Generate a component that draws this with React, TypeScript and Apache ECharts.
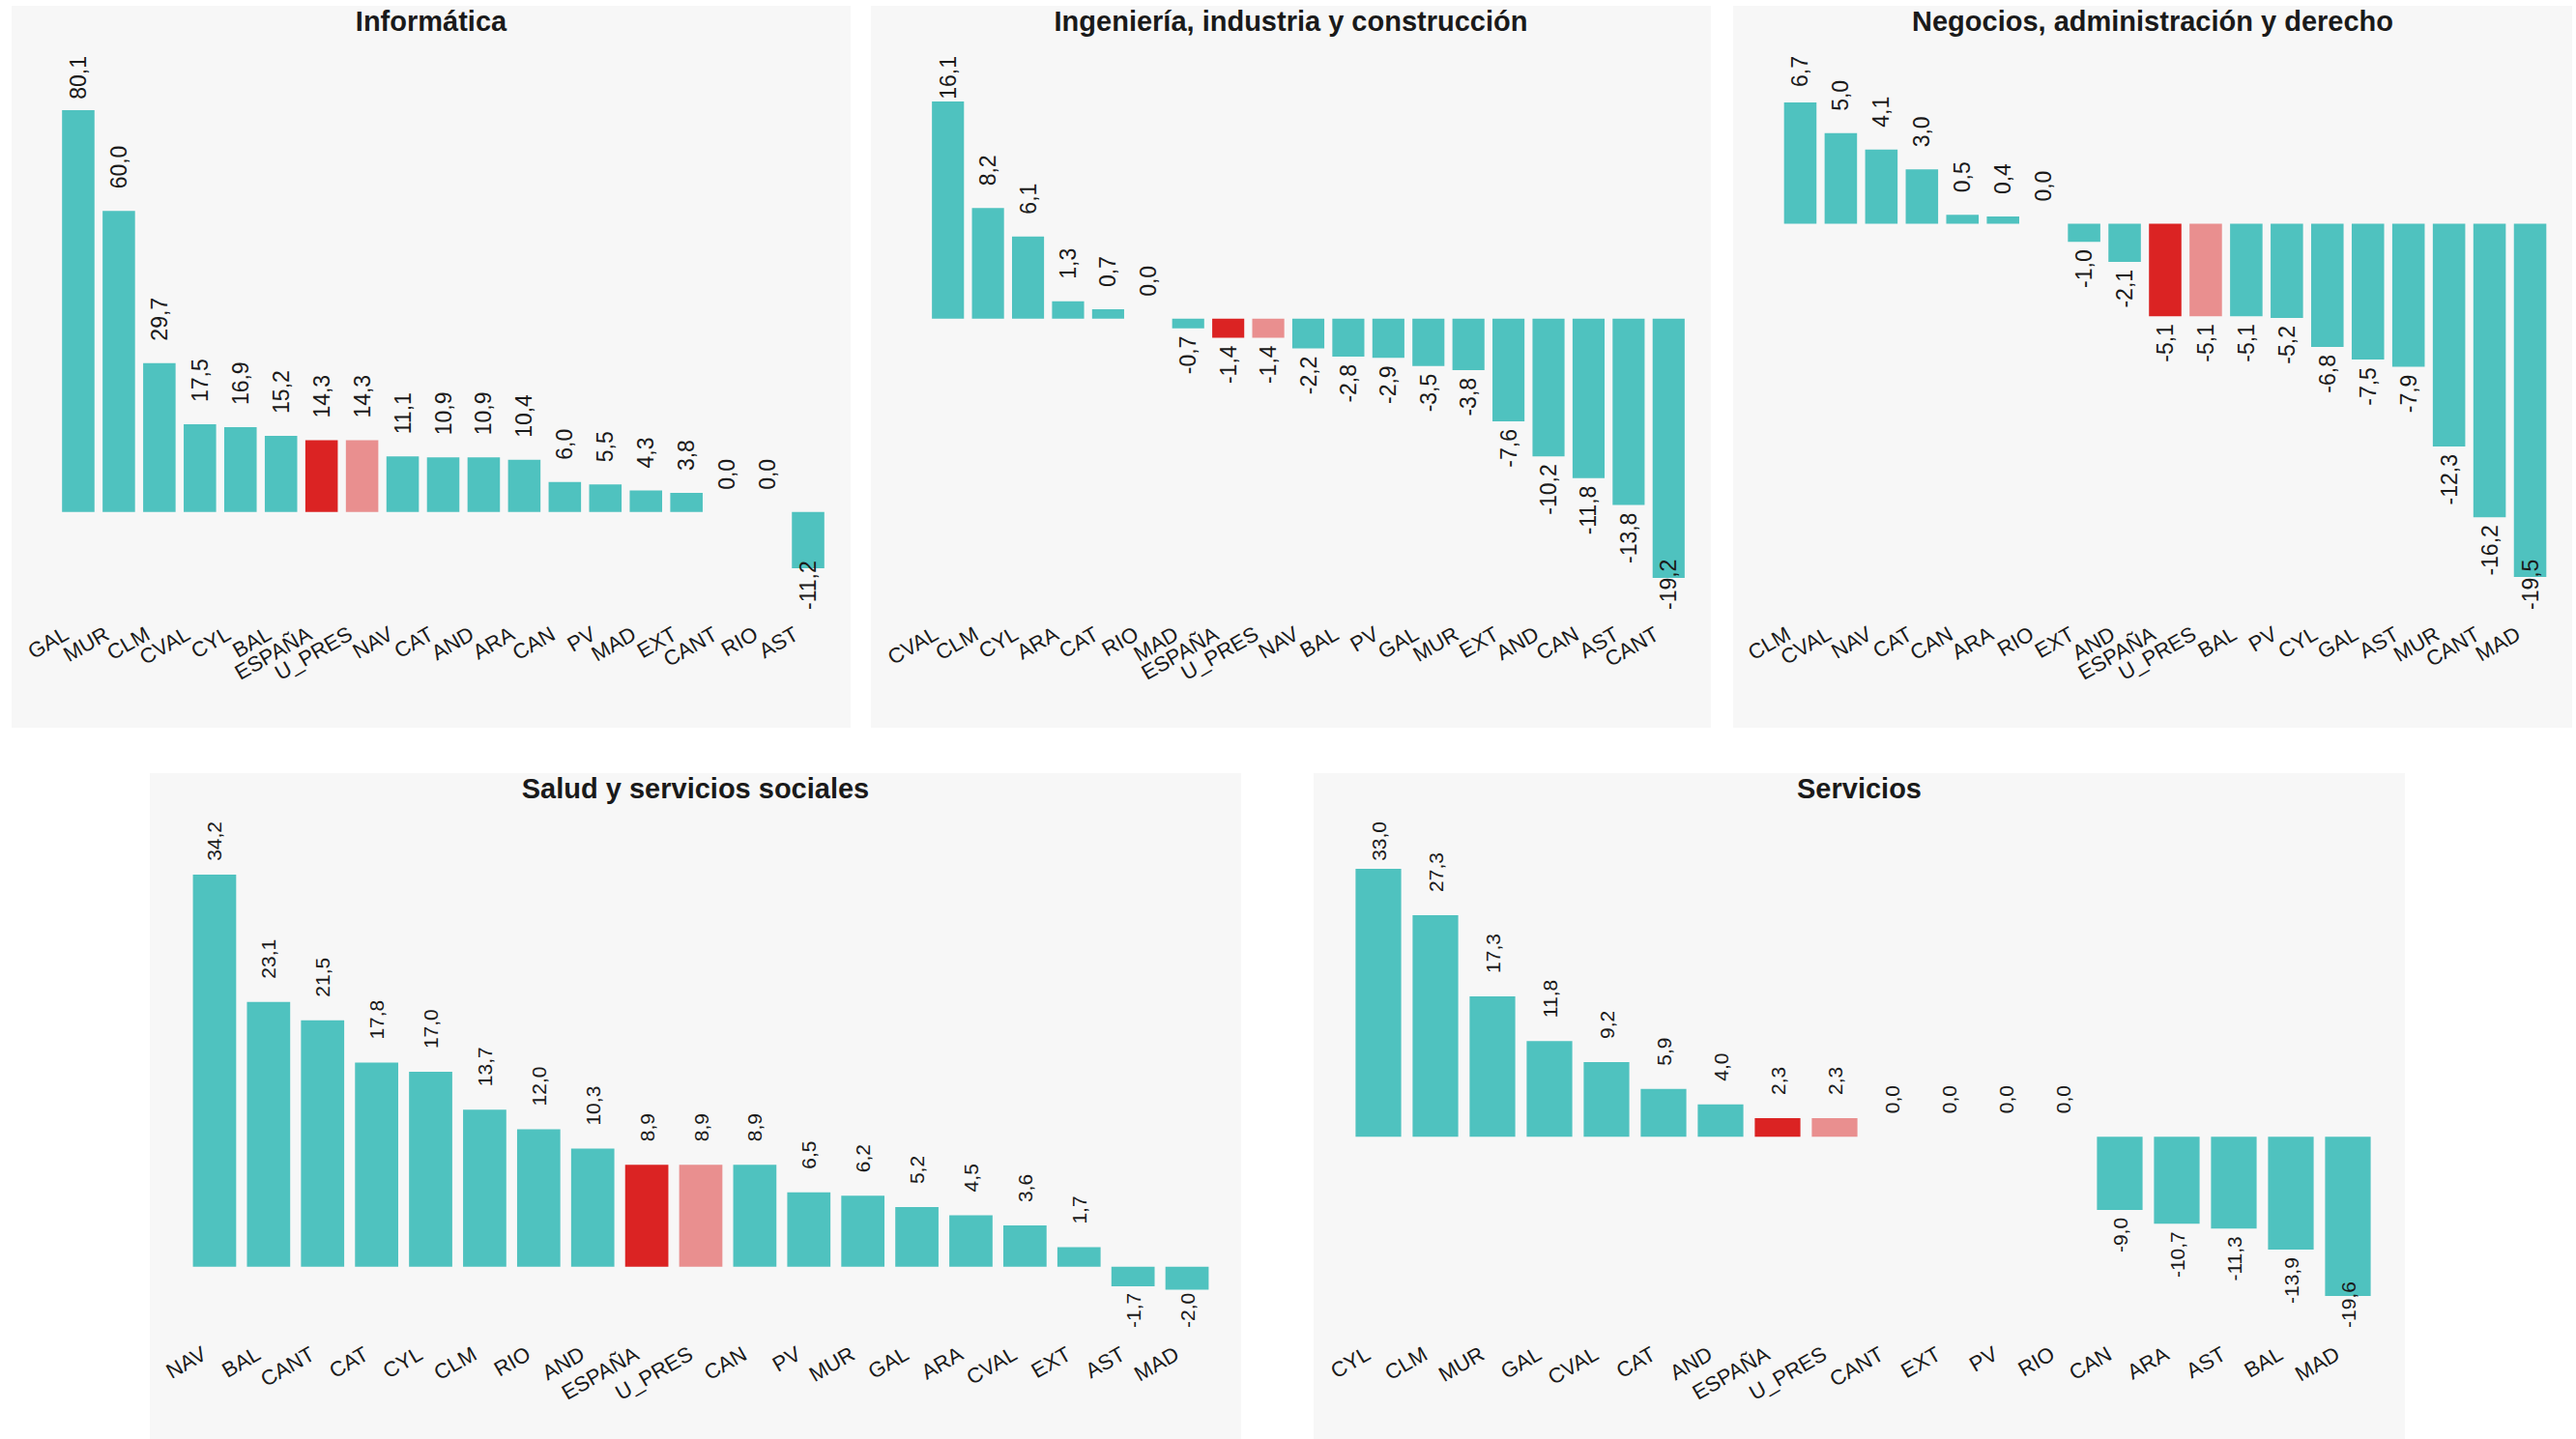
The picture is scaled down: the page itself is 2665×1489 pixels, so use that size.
import React, { useEffect, useRef } from "react";
import * as echarts from "echarts";

// ---------- DATA ----------
const TITLE_INFORMATICA = "Informática";
const CATS_INFORMATICA = ["GAL", "MUR", "CLM", "CVAL", "CYL", "BAL", "ESPAÑA", "U_PRES", "NAV", "CAT", "AND", "ARA", "CAN", "PV", "MAD", "EXT", "CANT", "RIO", "AST"];
const VALS_INFORMATICA = [80.1, 60.0, 29.7, 17.5, 16.9, 15.2, 14.3, 14.3, 11.1, 10.9, 10.9, 10.4, 6.0, 5.5, 4.3, 3.8, 0.0, 0.0, -11.2];

const TITLE_INGENIERIA = "Ingeniería, industria y construcción";
const CATS_INGENIERIA = ["CVAL", "CLM", "CYL", "ARA", "CAT", "RIO", "MAD", "ESPAÑA", "U_PRES", "NAV", "BAL", "PV", "GAL", "MUR", "EXT", "AND", "CAN", "AST", "CANT"];
const VALS_INGENIERIA = [16.1, 8.2, 6.1, 1.3, 0.7, 0.0, -0.7, -1.4, -1.4, -2.2, -2.8, -2.9, -3.5, -3.8, -7.6, -10.2, -11.8, -13.8, -19.2];

const TITLE_NEGOCIOS = "Negocios, administración y derecho";
const CATS_NEGOCIOS = ["CLM", "CVAL", "NAV", "CAT", "CAN", "ARA", "RIO", "EXT", "AND", "ESPAÑA", "U_PRES", "BAL", "PV", "CYL", "GAL", "AST", "MUR", "CANT", "MAD"];
const VALS_NEGOCIOS = [6.7, 5.0, 4.1, 3.0, 0.5, 0.4, 0.0, -1.0, -2.1, -5.1, -5.1, -5.1, -5.2, -6.8, -7.5, -7.9, -12.3, -16.2, -19.5];

const TITLE_SALUD = "Salud y servicios sociales";
const CATS_SALUD = ["NAV", "BAL", "CANT", "CAT", "CYL", "CLM", "RIO", "AND", "ESPAÑA", "U_PRES", "CAN", "PV", "MUR", "GAL", "ARA", "CVAL", "EXT", "AST", "MAD"];
const VALS_SALUD = [34.2, 23.1, 21.5, 17.8, 17.0, 13.7, 12.0, 10.3, 8.9, 8.9, 8.9, 6.5, 6.2, 5.2, 4.5, 3.6, 1.7, -1.7, -2.0];

const TITLE_SERVICIOS = "Servicios";
const CATS_SERVICIOS = ["CYL", "CLM", "MUR", "GAL", "CVAL", "CAT", "AND", "ESPAÑA", "U_PRES", "CANT", "EXT", "PV", "RIO", "CAN", "ARA", "AST", "BAL", "MAD"];
const VALS_SERVICIOS = [33.0, 27.3, 17.3, 11.8, 9.2, 5.9, 4.0, 2.3, 2.3, 0.0, 0.0, 0.0, 0.0, -9.0, -10.7, -11.3, -13.9, -19.6];

// ---------- STYLE ----------
const TEAL = "#4fc2bf";
const RED = "#db2323";
const PINK = "#e98f8f";
const PANEL_BG = "#f7f7f7";
const TEXT = "#1a1a1a";
const FONT_NAME = "Liberation Sans";
const FONT = "'Liberation Sans', Arial, Helvetica, sans-serif";

type Layout = {
  x: number; y: number; w: number; h: number;
  gl: number; gt: number; gw: number; gh: number;
  axisY: number; catFont: number; catPad: number;
  valFont: number; posGap: number; negGap: number;
  clampTop: number; clampBottom: number;
};

const TOP = { y: 6, h: 747, catFont: 22, catPad: 14, valFont: 23, posGap: 23, negGap: 8, clampTop: 52, clampBottom: 625, axisY: 641 };
const BOT = { y: 800, h: 689, catFont: 22, catPad: 12, valFont: 21, posGap: 24, negGap: 8, clampTop: 50, clampBottom: 574, axisY: 593 };

const L1: Layout = { ...TOP, x: 12, w: 868, gl: 48, gt: 108, gw: 797, gh: 474 };
const L2: Layout = { ...TOP, x: 901, w: 869, gl: 59, gt: 99, gw: 787, gh: 493 };
const L3: Layout = { ...TOP, x: 1793, w: 868, gl: 48.5, gt: 100, gw: 797, gh: 491 };
const L4: Layout = { ...BOT, x: 155, w: 1129, gl: 39, gt: 105, gw: 1062, gh: 429.5 };
const L5: Layout = { ...BOT, x: 1359, w: 1129, gl: 37.5, gt: 99, gw: 1062, gh: 442 };

const fmt = (v: number) => v.toFixed(1).replace(".", ",");

let measureCtx: CanvasRenderingContext2D | null = null;
function textWidth(s: string, size: number) {
  if (!measureCtx) measureCtx = document.createElement("canvas").getContext("2d");
  if (!measureCtx) return s.length * size * 0.5;
  measureCtx.font = `${size}px '${FONT_NAME}', Arial, sans-serif`;
  return measureCtx.measureText(s).width;
}

function Panel({ title, cats, vals, lay }: { title: string; cats: string[]; vals: number[]; lay: Layout }) {
  const ref = useRef<HTMLDivElement>(null);
  useEffect(() => {
    const chart = echarts.init(ref.current!, null, { renderer: "svg" });
    const minV = Math.min(...vals);
    const maxV = Math.max(...vals);
    const ppu = lay.gh / (maxV - minV);
    const zeroPx = lay.gt + maxV * ppu;
    const data = vals.map((v, i) => {
      const len = textWidth(fmt(v), lay.valFont);
      const end = zeroPx - v * ppu;
      let label: any;
      if (v >= 0) {
        let d = lay.posGap;
        if (end - d - len < lay.clampTop) d = end - lay.clampTop - len;
        label = { position: "top", align: "left", distance: d };
      } else {
        let d = lay.negGap;
        if (end + d + len > lay.clampBottom) d = lay.clampBottom - len - end;
        label = { position: "bottom", align: "right", distance: d };
      }
      return {
        value: v,
        itemStyle: { color: cats[i] === "ESPAÑA" ? RED : cats[i] === "U_PRES" ? PINK : TEAL },
        label,
      };
    });
    chart.setOption({
      animation: false,
      backgroundColor: PANEL_BG,
      title: {
        text: title,
        left: "center",
        top: 1,
        padding: 0,
        textStyle: { fontFamily: FONT, fontSize: 29, fontWeight: "bold", color: TEXT },
      },
      grid: { left: lay.gl, top: lay.gt, width: lay.gw, height: lay.gh, containLabel: false, outerBoundsMode: "none" },
      xAxis: {
        type: "category",
        data: cats,
        axisLine: { show: false, onZero: false },
        axisTick: { show: false },
        splitLine: { show: false },
        axisLabel: {
          interval: 0,
          rotate: 30,
          margin: lay.axisY - (lay.gt + lay.gh),
          fontFamily: FONT,
          fontSize: lay.catFont,
          color: TEXT,
          padding: [0, lay.catPad, 0, 0],
        },
      },
      yAxis: { type: "value", min: minV, max: maxV, show: false, splitLine: { show: false } },
      series: [
        {
          type: "bar",
          data,
          barWidth: "80%",
          label: {
            show: true,
            rotate: 90,
            verticalAlign: "middle",
            fontFamily: FONT,
            fontSize: lay.valFont,
            color: TEXT,
            formatter: (p: any) => fmt(Number(p.value)),
          },
        },
      ],
    });
    return () => chart.dispose();
  }, []);
  return (
    <div
      ref={ref}
      style={{ position: "absolute", left: lay.x, top: lay.y, width: lay.w, height: lay.h }}
    />
  );
}

export default function App() {
  useEffect(() => {
    document.body.style.margin = "0";
  }, []);
  return (
    <div style={{ position: "absolute", left: 0, top: 0, width: 2665, height: 1489, background: "#ffffff", overflow: "hidden" }}>
      <Panel title={TITLE_INFORMATICA} cats={CATS_INFORMATICA} vals={VALS_INFORMATICA} lay={L1} />
      <Panel title={TITLE_INGENIERIA} cats={CATS_INGENIERIA} vals={VALS_INGENIERIA} lay={L2} />
      <Panel title={TITLE_NEGOCIOS} cats={CATS_NEGOCIOS} vals={VALS_NEGOCIOS} lay={L3} />
      <Panel title={TITLE_SALUD} cats={CATS_SALUD} vals={VALS_SALUD} lay={L4} />
      <Panel title={TITLE_SERVICIOS} cats={CATS_SERVICIOS} vals={VALS_SERVICIOS} lay={L5} />
    </div>
  );
}
